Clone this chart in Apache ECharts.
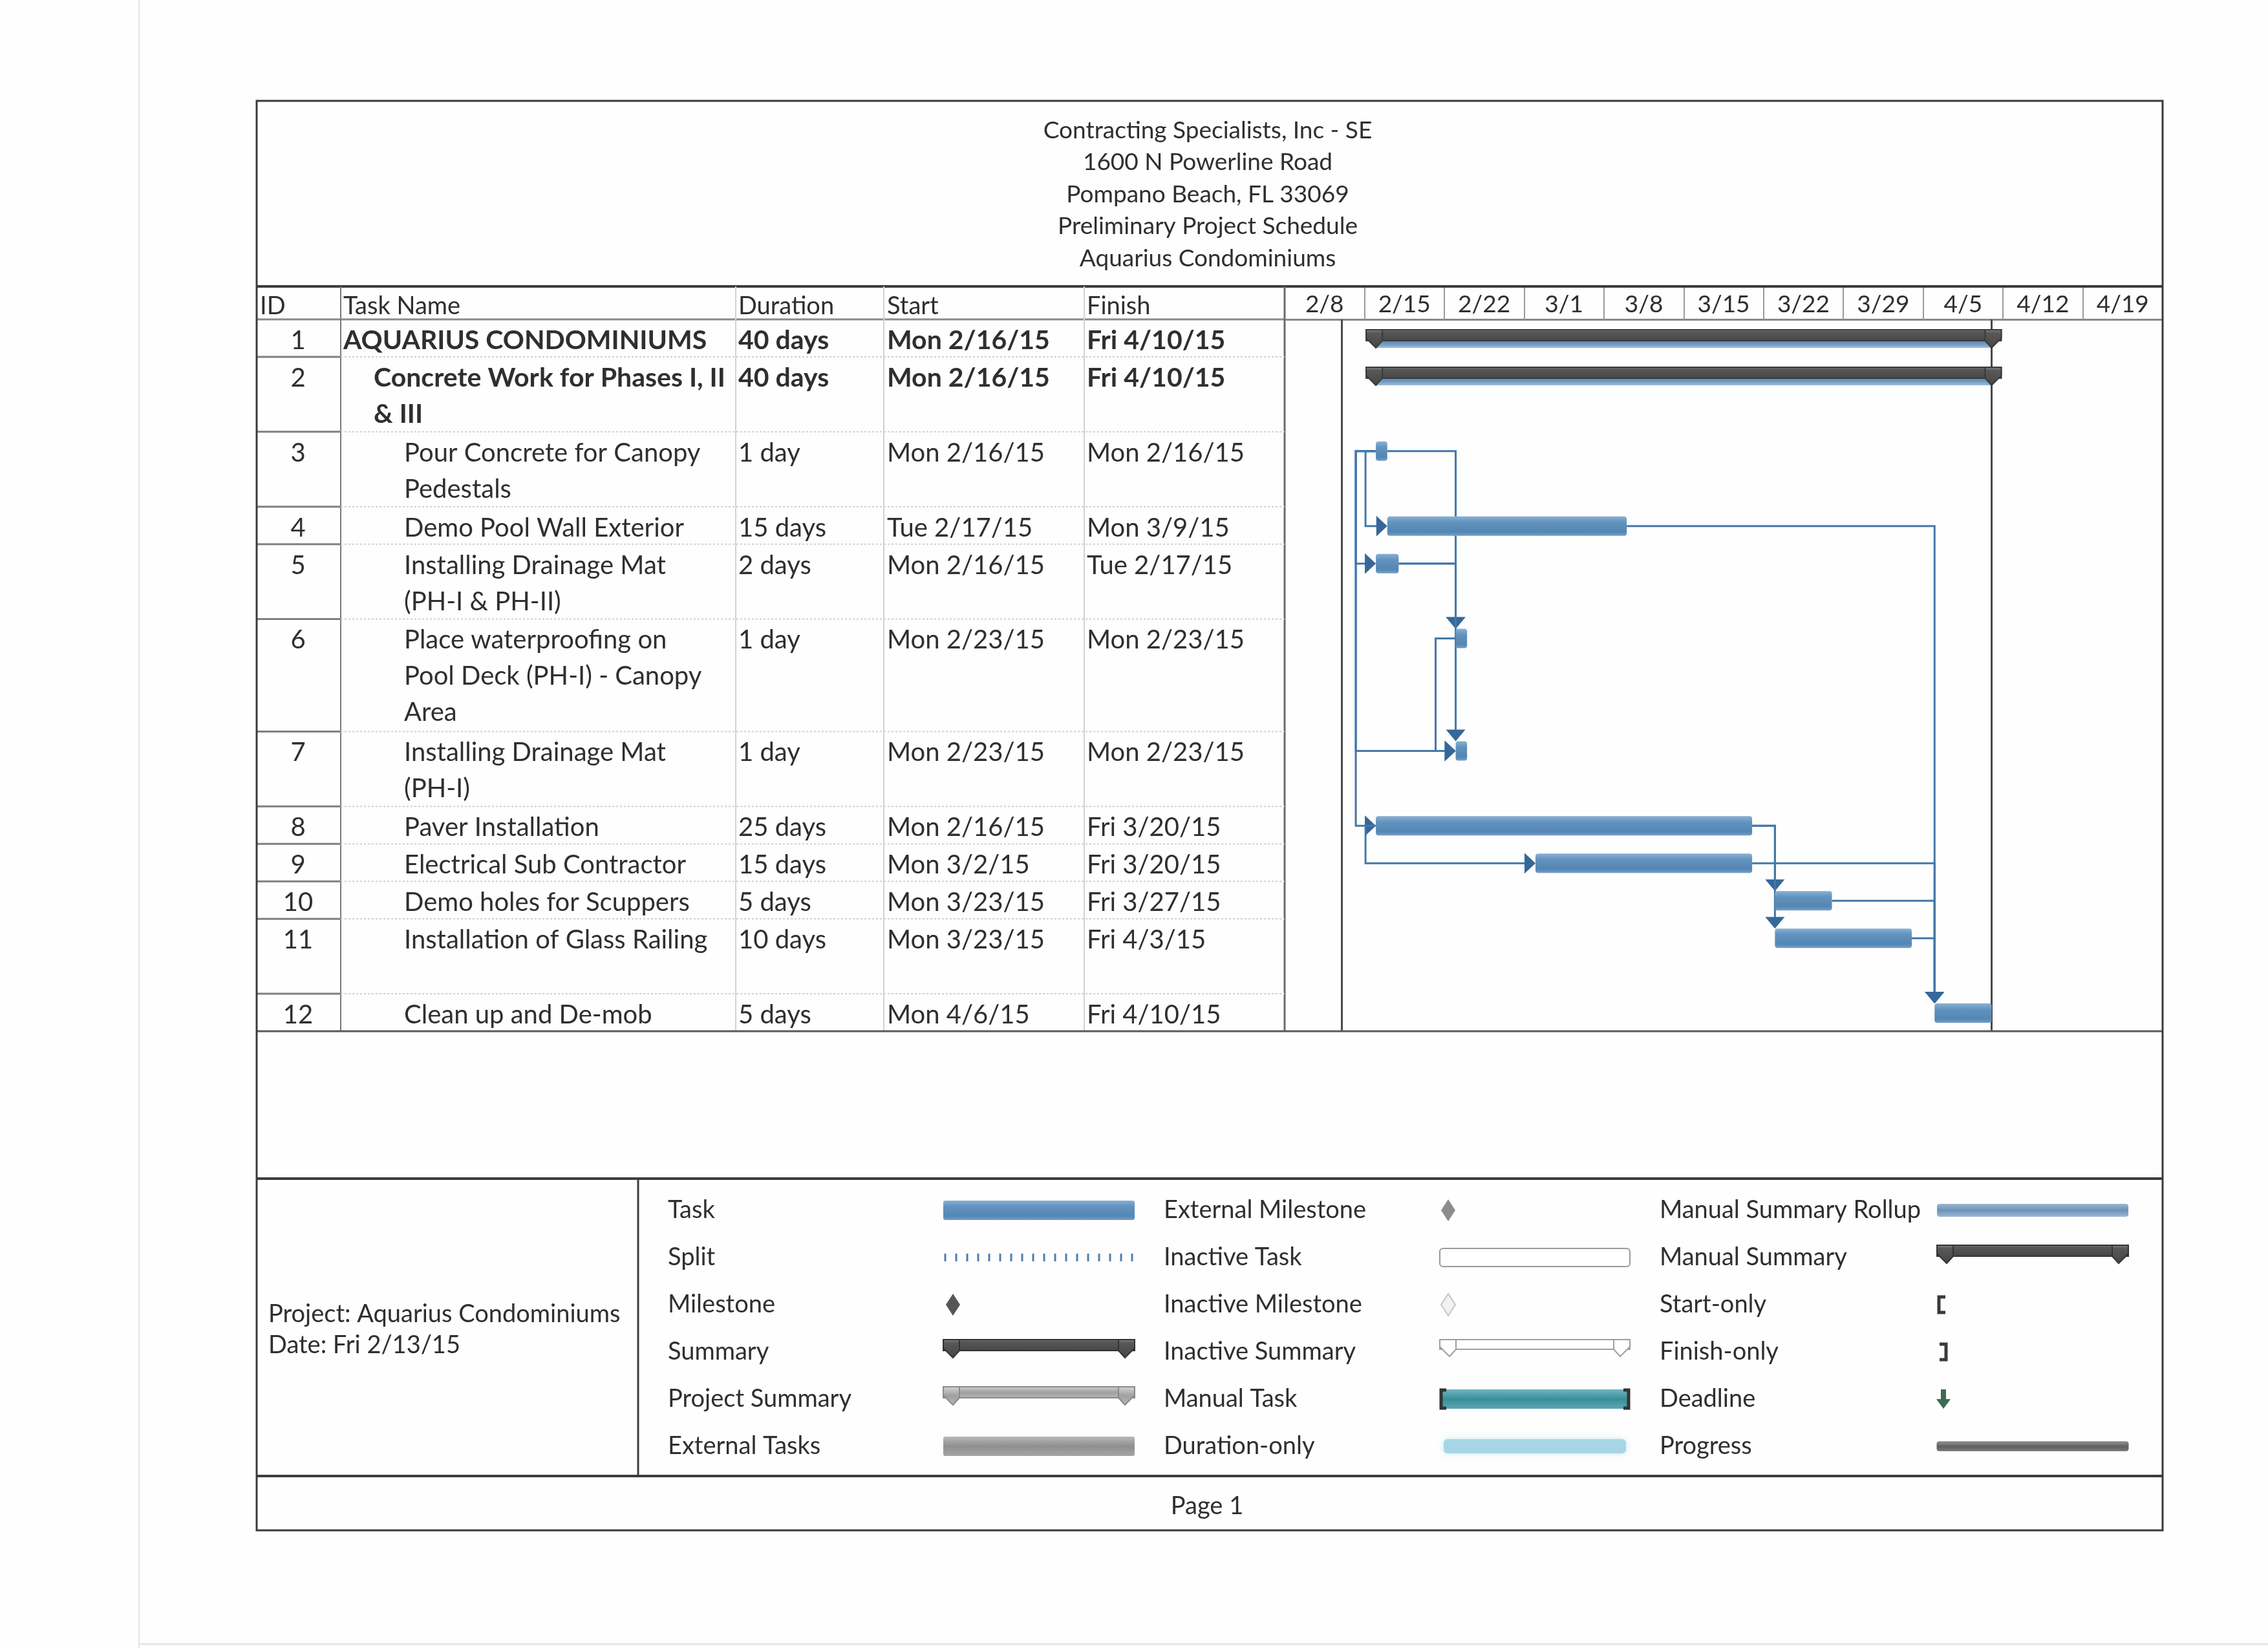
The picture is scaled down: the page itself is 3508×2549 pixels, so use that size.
<!DOCTYPE html>
<html><head><meta charset="utf-8">
<script src="https://cdn.jsdelivr.net/npm/echarts@6/dist/echarts.min.js"></script>
<style>html,body{margin:0;padding:0;background:#fff}#c{width:3508px;height:2549px}</style>
</head><body><div id="c"></div>
<script>
// ---------------- DATA ----------------
const titleLines = ['Contracting Specialists, Inc - SE','1600 N Powerline Road','Pompano Beach, FL 33069','Preliminary Project Schedule','Aquarius Condominiums'];
const columnHeaders = ['ID','Task Name','Duration','Start','Finish'];
const taskIds = [1,2,3,4,5,6,7,8,9,10,11,12];
const taskNames = [
  'AQUARIUS CONDOMINIUMS',
  'Concrete Work for Phases I, II\n& III',
  'Pour Concrete for Canopy\nPedestals',
  'Demo Pool Wall Exterior',
  'Installing Drainage Mat\n(PH-I & PH-II)',
  'Place waterproofing on\nPool Deck (PH-I) - Canopy\nArea',
  'Installing Drainage Mat\n(PH-I)',
  'Paver Installation',
  'Electrical Sub Contractor',
  'Demo holes for Scuppers',
  'Installation of Glass Railing',
  'Clean up and De-mob'
];
const outlineLevels = [0,1,2,2,2,2,2,2,2,2,2,2];
const isSummary = [true,true,false,false,false,false,false,false,false,false,false,false];
const durationDays = [40,40,1,15,2,1,1,25,15,5,10,5];
const startDates = ['2015-02-16','2015-02-16','2015-02-16','2015-02-17','2015-02-16','2015-02-23','2015-02-23','2015-02-16','2015-03-02','2015-03-23','2015-03-23','2015-04-06'];
const finishDates = ['2015-04-10','2015-04-10','2015-02-16','2015-03-09','2015-02-17','2015-02-23','2015-02-23','2015-03-20','2015-03-20','2015-03-27','2015-04-03','2015-04-10'];
// predecessor -> successor links
const links = [[3,6,'FS'],[5,6,'FS'],[5,7,'FS'],[3,4,'SS'],[3,5,'SS'],[3,7,'SS'],[3,8,'SS'],[6,7,'SS'],[8,9,'SS'],[8,10,'FS'],[8,11,'FS'],[4,12,'FS'],[9,12,'FS'],[10,12,'FS'],[11,12,'FS']];
const weekTickLabels = ['2/8','2/15','2/22','3/1','3/8','3/15','3/22','3/29','4/5','4/12','4/19'];
const timelineStart = '2015-02-08';
const timelineWeeks = 11;
const statusDate = '2015-02-13';
const projectInfo = ['Project: Aquarius Condominiums','Date: Fri 2/13/15'];
const legendCol1 = ['Task','Split','Milestone','Summary','Project Summary','External Tasks'];
const legendCol2 = ['External Milestone','Inactive Task','Inactive Milestone','Inactive Summary','Manual Task','Duration-only'];
const legendCol3 = ['Manual Summary Rollup','Manual Summary','Start-only','Finish-only','Deadline','Progress'];
const footerText = 'Page 1';

// ---------------- LAYOUT ----------------
const FONT = 'Lato';
const FS_BODY = 40, FS_BOLD = 41, FS_HEAD = 38, FS_TITLE = 37, FS_LEG = 38, FS_AXIS = 37;
const TXT = '#2f2f2f';
const rowLines = [1,2,2,1,2,3,2,1,1,1,2,1];   // text lines per table row
const FR = {l:397, r:3345, t:156, b:2367};
const HEAD_TOP = 443, GRID_TOP = 494, TABLE_BOT = 1595, LEG_TOP = 1823, LEG_BOT = 2283;
const COLX = [397, 527, 1138, 1367, 1677, 1987];
const TOTAL_LINES = rowLines.reduce((a,b)=>a+b,0);
const LINE = (TABLE_BOT - GRID_TOP) / TOTAL_LINES;

function dayIdx(s){const [y,m,d]=s.split('-').map(Number);const [y0,m0,d0]=timelineStart.split('-').map(Number);return (Date.UTC(y,m-1,d)-Date.UTC(y0,m0-1,d0))/86400000;}
const WD = ['Sun','Mon','Tue','Wed','Thu','Fri','Sat'];
function fmtDate(s){const [y,m,d]=s.split('-').map(Number);const dt=new Date(Date.UTC(y,m-1,d));return WD[dt.getUTCDay()]+' '+m+'/'+d+'/'+String(y).slice(2);}
function fmtDur(n){return n+(n===1?' day':' days');}

const lineStart = []; {let c=0; rowLines.forEach(n=>{lineStart.push(c); c+=n;});}
const taskStart = startDates.map(dayIdx);
const taskEnd = finishDates.map(s=>dayIdx(s)+1);
const idxOf = id => taskIds.indexOf(id);

const chart = echarts.init(document.getElementById('c'), null, {renderer:'canvas'});

const BLUE_GRAD = () => new echarts.graphic.LinearGradient(0,0,0,1,[{offset:0,color:'#8ab1d3'},{offset:0.3,color:'#6293bf'},{offset:0.8,color:'#5486b3'},{offset:1,color:'#74a0c7'}]);
const DARK_GRAD = () => new echarts.graphic.LinearGradient(0,0,0,1,[{offset:0,color:'#8a8a8a'},{offset:0.2,color:'#585858'},{offset:1,color:'#454545'}]);
const LINK_C = '#4478a9', ARROW_C = '#35689a';

function summaryShape(x0, x1, yTop, h, fill, stroke){
  const st = {fill:fill, stroke:stroke||null, lineWidth:2};
  return [
    {type:'rect', shape:{x:x0-15, y:yTop, width:x1-x0+30, height:h}, style:Object.assign({}, st)},
    {type:'polygon', shape:{points:[[x0-15,yTop],[x0+10,yTop],[x0+10,yTop+h],[x0,yTop+h+11],[x0-15,yTop+h-4]]}, style:Object.assign({}, st)},
    {type:'polygon', shape:{points:[[x1+15,yTop],[x1-10,yTop],[x1-10,yTop+h],[x1,yTop+h+11],[x1+15,yTop+h-4]]}, style:Object.assign({}, st)}
  ];
}

const taskData = taskIds.map((id,i)=>[taskStart[i], taskEnd[i], lineStart[i], i]);
const laneOffset = {'3-4':16,'8-9':16};
const linkData = links.map(([p,s,t])=>{const a=idxOf(p), b=idxOf(s);return [taskStart[a], taskEnd[a], lineStart[a], taskStart[b], taskEnd[b], lineStart[b], t==='FS'?0:1, laneOffset[p+'-'+s]||31];});

const option = {
  animation:false,
  backgroundColor:'#fefefe',
  grid:{left:COLX[5], top:GRID_TOP, width:FR.r-COLX[5], height:TABLE_BOT-GRID_TOP, show:false},
  xAxis:[
    {type:'value', min:0, max:timelineWeeks*7, show:false},
    {type:'category', position:'top', data:weekTickLabels, boundaryGap:true,
     axisLine:{show:true, lineStyle:{color:'#8a8a8a', width:3}},
     axisTick:{show:true, interval:0, length:GRID_TOP-HEAD_TOP, lineStyle:{color:'#9a9a9a', width:2}},
     axisLabel:{fontFamily:FONT, fontSize:FS_AXIS, color:TXT, margin:4, interval:0},
     splitLine:{show:false}}
  ],
  yAxis:{type:'value', min:0, max:TOTAL_LINES, inverse:true, show:false},
  series:[
    {type:'custom', name:'links', xAxisIndex:0, yAxisIndex:0, z:3, silent:true,
     encode:{x:[0,1,3,4], y:[2,5]},
     data:linkData,
     renderItem(params, api){
       const pS = api.coord([api.value(0), api.value(2)]);
       const pE = api.coord([api.value(1), api.value(2)]);
       const sS = api.coord([api.value(3), api.value(5)]);
       const type = api.value(6), lane = api.value(7);
       const yP = pS[1] + 30, yS = sS[1] + 30;
       const ch = [];
       if (type === 0) {
         const xs = sS[0], topS = sS[1] + 15;
         ch.push({type:'polyline', shape:{points:[[pE[0],yP],[xs,yP],[xs,topS-14]]}, style:{stroke:LINK_C, lineWidth:3, fill:null}});
         ch.push({type:'polygon', shape:{points:[[xs-15,topS-18],[xs+15,topS-18],[xs,topS]]}, style:{fill:ARROW_C}});
       } else {
         const lx = pS[0] - lane;
         ch.push({type:'polyline', shape:{points:[[pS[0],yP],[lx,yP],[lx,yS],[sS[0]-14,yS]]}, style:{stroke:LINK_C, lineWidth:3, fill:null}});
         ch.push({type:'polygon', shape:{points:[[sS[0]-17,yS-16],[sS[0]-17,yS+16],[sS[0],yS]]}, style:{fill:ARROW_C}});
       }
       return {type:'group', children:ch};
     }},
    {type:'custom', name:'tasks', xAxisIndex:0, yAxisIndex:0, z:5, silent:true,
     encode:{x:[0,1], y:2},
     data:taskData,
     renderItem(params, api){
       const i = api.value(3);
       const p0 = api.coord([api.value(0), api.value(2)]);
       const p1 = api.coord([api.value(1), api.value(2)]);
       const top = p0[1];
       if (isSummary[i]) {
         const ch = [];
         ch.push({type:'rect', shape:{x:p0[0], y:top+29, width:p1[0]-p0[0], height:15}, style:{fill:new echarts.graphic.LinearGradient(0,0,0,1,[{offset:0,color:'#4f7ea8'},{offset:0.6,color:'#6f98be'},{offset:1,color:'#9dbcd6'}])}});
         summaryShape(p0[0], p1[0], top+16, 17, DARK_GRAD(), '#3a3a3a').forEach(e=>ch.push(e));
         return {type:'group', children:ch};
       }
       return {type:'rect', shape:{x:p0[0], y:top+15, width:Math.max(p1[0]-p0[0],4), height:30, r:4}, style:{fill:BLUE_GRAD()}};
     },
     markLine:{silent:true, symbol:'none', label:{show:false}, lineStyle:{color:'#4a4a4a', width:3, type:'solid'},
       data:[{xAxis:dayIdx(statusDate)},{xAxis:taskEnd[0]}]}}
  ],
  graphic:{elements:[]}
};

// ---------- graphic: frame, table, legend ----------
const G = [];
const txt = (x,y,text,o={}) => G.push({type:'text', x, y, silent:true, z:10, style:Object.assign({text, fontFamily:FONT, fontSize:FS_BODY, fill:TXT, textAlign:'left', textVerticalAlign:'middle'}, o)});
const hline = (x1,x2,y,c,w,dash) => G.push({type:'line', silent:true, z:8, shape:{x1,y1:y,x2,y2:y}, style:{stroke:c, lineWidth:w, lineDash:dash||null}});
const vline = (x,y1,y2,c,w,dash) => G.push({type:'line', silent:true, z:8, shape:{x1:x,y1,x2:x,y2}, style:{stroke:c, lineWidth:w, lineDash:dash||null}});

// scan edge artefacts
vline(215, 0, 2549, '#e4e4e4', 2);
hline(215, 3508, 2543, '#e6e6e6', 3);

// frame
G.push({type:'rect', silent:true, z:9, shape:{x:FR.l, y:FR.t, width:FR.r-FR.l, height:FR.b-FR.t}, style:{fill:null, stroke:'#3a3a3a', lineWidth:3}});
// title
titleLines.forEach((t,k)=>txt(1868, 202 + k*49.5, t, {textAlign:'center', fontSize:FS_TITLE}));
// header lines
hline(FR.l, FR.r, HEAD_TOP, '#3d3d3d', 4);
hline(FR.l, COLX[5], GRID_TOP, '#8a8a8a', 3);
// column headers
const headX = [402, 531, 1142, 1372, 1681];
columnHeaders.forEach((h,k)=>txt(headX[k], 474, h, {fontSize:FS_HEAD}));
// column lines
vline(COLX[1], HEAD_TOP, TABLE_BOT, '#7a7a7a', 2);
[COLX[2], COLX[3], COLX[4]].forEach(x=>vline(x, HEAD_TOP, TABLE_BOT, '#d2d2d2', 2));
vline(COLX[5], HEAD_TOP, TABLE_BOT, '#6a6a6a', 3);
// rows
taskIds.forEach((id,i)=>{
  const top = GRID_TOP + lineStart[i]*LINE;
  const bot = top + rowLines[i]*LINE;
  const y = top + 33;
  const b = isSummary[i];
  const o = b ? {fontWeight:'bold', fontSize:FS_BOLD} : {};
  txt(461, y, String(id), {textAlign:'center'});
  taskNames[i].split('\n').forEach((ln,k)=>txt(531 + outlineLevels[i]*47, y + k*56, ln, o));
  txt(1142, y, fmtDur(durationDays[i]), o);
  txt(1372, y, fmtDate(startDates[i]), o);
  txt(1681, y, fmtDate(finishDates[i]), o);
  if (i < taskIds.length-1) {
    hline(FR.l, COLX[1], bot, '#808080', 3);
    hline(COLX[1], COLX[5], bot, '#d0d0d0', 2, [3,3]);
  }
});
hline(FR.l, FR.r, TABLE_BOT, '#5a5a5a', 3);

// legend box
hline(FR.l, FR.r, LEG_TOP, '#3d3d3d', 4);
hline(FR.l, FR.r, LEG_BOT, '#3d3d3d', 4);
vline(987, LEG_TOP, LEG_BOT, '#3d3d3d', 3);
txt(415, 2033, projectInfo[0], {fontSize:FS_LEG});
txt(415, 2081, projectInfo[1], {fontSize:FS_LEG});
txt(1867, 2330, footerText, {textAlign:'center', fontSize:FS_LEG});

const LY = k => 1872 + k*73;
legendCol1.forEach((t,k)=>txt(1033, LY(k), t, {fontSize:FS_LEG}));
legendCol2.forEach((t,k)=>txt(1800, LY(k), t, {fontSize:FS_LEG}));
legendCol3.forEach((t,k)=>txt(2567, LY(k), t, {fontSize:FS_LEG}));

const sym = o => { o.silent = true; o.z = 10; G.push(o); };
// col1 symbols
const C1 = 1459, C2 = 2227, C3 = 2996, SW = 296;
sym({type:'rect', shape:{x:C1, y:LY(0)-15, width:SW, height:30, r:3}, style:{fill:BLUE_GRAD()}});
for (let k=0;k<18;k++) sym({type:'line', shape:{x1:C1+3+k*17, y1:LY(1)-6, x2:C1+3+k*17, y2:LY(1)+6}, style:{stroke:'#4f7fae', lineWidth:3}});
sym({type:'polygon', shape:{points:[[C1+15,LY(2)-17],[C1+26,LY(2)],[C1+15,LY(2)+17],[C1+4,LY(2)]]}, style:{fill:'#565656'}});
summaryShape(C1+15, C1+SW-15, LY(3)-19, 17, DARK_GRAD(), '#333').forEach(sym);
summaryShape(C1+15, C1+SW-15, LY(4)-19, 17, new echarts.graphic.LinearGradient(0,0,0,1,[{offset:0,color:'#d6d6d6'},{offset:0.5,color:'#a0a0a0'},{offset:1,color:'#b8b8b8'}]), '#8a8a8a').forEach(sym);
sym({type:'rect', shape:{x:C1, y:LY(5)-15, width:SW, height:30, r:3}, style:{fill:new echarts.graphic.LinearGradient(0,0,0,1,[{offset:0,color:'#b9b9b9'},{offset:0.5,color:'#8f8f8f'},{offset:1,color:'#a5a5a5'}])}});
// col2 symbols
sym({type:'polygon', shape:{points:[[C2+13,LY(0)-17],[C2+24,LY(0)],[C2+13,LY(0)+17],[C2+2,LY(0)]]}, style:{fill:'#8c8c8c'}});
sym({type:'rect', shape:{x:C2, y:LY(1)-14, width:SW-2, height:28, r:5}, style:{fill:'#fff', stroke:'#9a9a9a', lineWidth:2}});
sym({type:'polygon', shape:{points:[[C2+13,LY(2)-17],[C2+24,LY(2)],[C2+13,LY(2)+17],[C2+2,LY(2)]]}, style:{fill:'#f2f2f2', stroke:'#c4c4c4', lineWidth:2}});
summaryShape(C2+15, C2+SW-17, LY(3)-19, 15, '#ffffff', '#a0a0a0').forEach(sym);
sym({type:'rect', shape:{x:C2, y:LY(4)-15, width:SW-2, height:30, r:3}, style:{fill:new echarts.graphic.LinearGradient(0,0,0,1,[{offset:0,color:'#6fb5bf'},{offset:0.5,color:'#3a8f9b'},{offset:1,color:'#5aa6b1'}])}});
sym({type:'polyline', shape:{points:[[C2+10,LY(4)-14],[C2+2,LY(4)-14],[C2+2,LY(4)+14],[C2+10,LY(4)+14]]}, style:{stroke:'#333', lineWidth:5, fill:null}});
sym({type:'polyline', shape:{points:[[C2+SW-12,LY(4)-14],[C2+SW-4,LY(4)-14],[C2+SW-4,LY(4)+14],[C2+SW-12,LY(4)+14]]}, style:{stroke:'#333', lineWidth:5, fill:null}});
sym({type:'rect', shape:{x:C2+6, y:LY(5)-11, width:SW-14, height:22, r:6}, style:{fill:'#a6d6e6', shadowBlur:10, shadowColor:'#c8e6ef'}});
// col3 symbols
sym({type:'rect', shape:{x:C3, y:LY(0)-10, width:SW, height:20, r:4}, style:{fill:new echarts.graphic.LinearGradient(0,0,0,1,[{offset:0,color:'#9bb6d0'},{offset:0.5,color:'#6e92b6'},{offset:1,color:'#9ab8d4'}])}});
summaryShape(C3+15, C3+SW-15, LY(1)-19, 17, DARK_GRAD(), '#333').forEach(sym);
sym({type:'polyline', shape:{points:[[C3+13,LY(2)-12],[C3+3,LY(2)-12],[C3+3,LY(2)+12],[C3+13,LY(2)+12]]}, style:{stroke:'#3a3a3a', lineWidth:5, fill:null}});
sym({type:'polyline', shape:{points:[[C3+4,LY(3)-12],[C3+14,LY(3)-12],[C3+14,LY(3)+12],[C3+4,LY(3)+12]]}, style:{stroke:'#3a3a3a', lineWidth:5, fill:null}});
sym({type:'rect', shape:{x:C3+6, y:LY(4)-15, width:8, height:16}, style:{fill:'#3d6a55'}});
sym({type:'polygon', shape:{points:[[C3-1,LY(4)],[C3+21,LY(4)],[C3+10,LY(4)+15]]}, style:{fill:'#3d6a55'}});
sym({type:'rect', shape:{x:C3, y:LY(5)-7, width:SW, height:14, r:3}, style:{fill:new echarts.graphic.LinearGradient(0,0,0,1,[{offset:0,color:'#9a9a9a'},{offset:0.5,color:'#5e5e5e'},{offset:1,color:'#7a7a7a'}]), stroke:'#666', lineWidth:1}});

option.graphic.elements = G;
chart.setOption(option);
</script></body></html>
